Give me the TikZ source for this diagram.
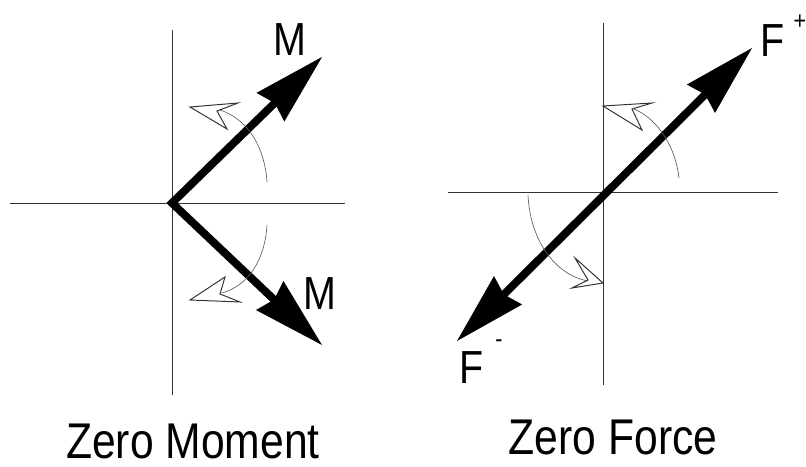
\documentclass[tikz,border=0pt]{standalone}
\usepackage{fontspec}
\setmainfont{Liberation Sans}
\newfontfamily\narrowsans[FakeStretch=0.85]{Liberation Sans}
\usetikzlibrary{arrows.meta}

\begin{document}
\begin{tikzpicture}[
    x=0.025cm, y=-0.025cm,
    axis/.style={line width=0.7pt, black!80},
    load/.style={line width=5.6pt, line join=miter, >={Stealth[length=1.8cm, width=1.0cm, inset=0.15cm, line width=0pt]}, <->},
    turn/.style={line width=0.45pt, black!65},
    openhead/.style={line width=0.7pt, black!80, line join=miter},
    lab/.style={font=\narrowsans\fontsize{33}{36}\selectfont, inner sep=0pt},
    sgn/.style={font=\narrowsans\fontsize{18}{20}\selectfont, inner sep=0pt},
    caption/.style={font=\narrowsans\fontsize{35.7}{40}\selectfont, inner sep=0pt}
]
\useasboundingbox (0,0) rectangle (806,466);
% zero moment
\coordinate (mo) at (172,203);
\coordinate (mtop) at (172,30);
\coordinate (mbot) at (172,395);
\coordinate (mleft) at (10,203);
\coordinate (mright) at (345,203);
\coordinate (mup) at (322,57);
\coordinate (mdn) at (322,345);
\draw[axis] (mtop) -- (mbot);
\draw[axis] (mleft) -- (mright);
\draw[load] (mup) -- (mo) -- (mdn);
\draw[turn] (267,182) .. controls (265,150) and (250,120) .. (220,110);
\draw[openhead] (190,107) -- (238,103) -- (217,111) -- (227,129) -- cycle;
\draw[turn] (267,225) .. controls (265,258) and (250,285) .. (222,293);
\draw[openhead] (190,300) -- (240,302) -- (220,294) -- (225,277) -- cycle;
\node[lab] (mupt) at (290,40) {M};
\node[lab] (mdnt) at (320,294) {M};
\node[caption] (zm) at (193,441) {Zero Moment};
% zero force
\coordinate (ftop) at (603,23);
\coordinate (fbot) at (603,385);
\coordinate (fleft) at (448,192);
\coordinate (fright) at (778,192);
\coordinate (fpos) at (752,48);
\coordinate (fneg) at (457,341);
\draw[axis] (ftop) -- (fbot);
\draw[axis] (fleft) -- (fright);
\draw[load] (fneg) -- (fpos);
\draw[turn] (679,178) .. controls (676,150) and (660,120) .. (634,109);
\draw[openhead] (603,106) -- (652,103) -- (632,109) -- (642,130) -- cycle;
\draw[turn] (528,195) .. controls (530,240) and (555,275) .. (588,281);
\draw[openhead] (603,283) -- (575,258) -- (588,280) -- (572,288) -- cycle;
\node[lab] (fpost) at (773,41) {F};
\node[sgn] (fposs) at (800,22) {+};
\node[lab] (fnegt) at (472,368) {F};
\node[sgn] (fnegs) at (499,344) {-};
\node[caption] (zf) at (613,437) {Zero Force};
\end{tikzpicture}
\end{document}
